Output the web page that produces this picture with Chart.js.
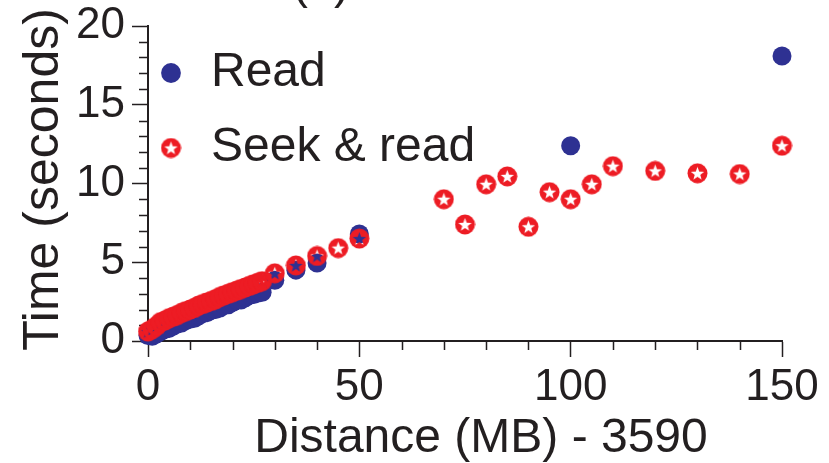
<!DOCTYPE html>
<html><head><meta charset="utf-8">
<script src="https://cdn.jsdelivr.net/npm/chart.js@4/dist/chart.umd.min.js"></script>
<style>html,body{margin:0;padding:0;background:#fff;overflow:hidden}#wrap{width:829px;height:463px;position:relative}</style>
</head><body><div id="wrap"><canvas id="c" width="829" height="463"></canvas></div>
<script>
// ---- data ----
const readX = [0,1,2,3,4,5,6,7,8,9,10,11,12,13,14,15,16,17,18,19,20,21,22,23,24,25,26,27,30,35,40,50,100,150];
const readY = [0.35,0.3,0.45,0.6,0.75,0.8,0.95,1.1,1.15,1.3,1.4,1.45,1.6,1.75,1.8,1.95,2.0,2.1,2.25,2.3,2.45,2.6,2.6,2.75,2.9,2.95,3.05,3.1,3.85,4.5,4.95,6.8,12.4,18.1];
const seekX = [0,1,2,3,4,5,6,7,8,9,10,11,12,13,14,15,16,17,18,19,20,21,22,23,24,25,26,27,30,35,40,45,50,70,75,80,85,90,95,100,105,110,120,130,140,150];
const seekY = [0.6,0.75,0.95,1.2,1.3,1.45,1.55,1.65,1.8,1.9,2.0,2.1,2.25,2.35,2.45,2.55,2.65,2.8,2.9,3.0,3.1,3.2,3.3,3.4,3.5,3.6,3.7,3.8,4.3,4.8,5.4,5.9,6.5,9.0,7.4,9.95,10.45,7.25,9.45,9.0,9.95,11.1,10.8,10.65,10.6,12.4];
const seriesLabels = ['Read', 'Seek & read'];
const xTickValues = [0, 50, 100, 150];
const yTickValues = [0, 5, 10, 15, 20];
const xMinorTicks = [10,20,30,40,60,70,80,90,110,120,130,140];
const yMinorTicks = [1,2,3,4,6,7,8,9,11,12,13,14,16,17,18,19];
const xTitle = 'Distance (MB) - 3590';
const yTitle = 'Time (seconds)';
const panelTitle = '(b)';

// ---- styles ----
const INK = '#231f20', BLUE = '#2e3192', RED = '#ed1c24';
const FONT = '"Liberation Sans", Arial, Helvetica, sans-serif';

function starMarker() {
  const c = document.createElement('canvas');
  c.width = 21; c.height = 21;
  const g = c.getContext('2d');
  const cx = 10.5, cy = 10.5;
  g.fillStyle = RED;
  g.beginPath(); g.arc(cx, cy, 10, 0, Math.PI * 2); g.fill();
  g.globalCompositeOperation = 'destination-out';
  g.beginPath();
  for (let i = 0; i < 10; i++) {
    const r = i % 2 === 0 ? 7 : 2.9;
    const a = -Math.PI / 2 + i * Math.PI / 5;
    const px = cx + r * Math.cos(a), py = cy + 0.6 + r * Math.sin(a);
    if (i === 0) g.moveTo(px, py); else g.lineTo(px, py);
  }
  g.closePath(); g.fill();
  return c;
}
const star = starMarker();

const toPts = (xs, ys) => xs.map((x, i) => ({x: x, y: ys[i]}));

// shift an axis title by a few pixels while still letting Chart.js draw it
function nudgeTitle(dx, dy) {
  return s => {
    s.paddingTop = 0; s.paddingBottom = 0; s.paddingLeft = 0; s.paddingRight = 0;
    if (s._nudged) return;
    const orig = s.drawTitle.bind(s);
    s.drawTitle = function () { const c = this.ctx; c.save(); c.translate(dx, dy); orig(); c.restore(); };
    s._nudged = true;
  };
}

const minorTicks = {
  id: 'minorTicks',
  beforeDatasetsDraw(chart) {
    const ctx = chart.ctx, xs = chart.scales.x, ys = chart.scales.y;
    ctx.save();
    ctx.strokeStyle = INK; ctx.lineWidth = 1.5;
    ctx.beginPath();
    xMinorTicks.forEach(v => { const p = Math.round(xs.getPixelForValue(v)) + 0.5; ctx.moveTo(p, xs.top); ctx.lineTo(p, xs.top + 9); });
    yMinorTicks.forEach(v => { const p = Math.round(ys.getPixelForValue(v)) + 0.5; ctx.moveTo(ys.right, p); ctx.lineTo(ys.right - 9, p); });
    ctx.stroke();
    ctx.restore();
  }
};
const topTitle = {
  id: 'topTitle',
  afterDraw(chart) {
    const ctx = chart.ctx;
    ctx.save();
    ctx.fillStyle = INK;
    ctx.font = '47px ' + FONT;
    ctx.textAlign = 'center';
    ctx.textBaseline = 'alphabetic';
    ctx.fillText(panelTitle, 321, -2);
    ctx.restore();
  }
};

new Chart(document.getElementById('c'), {
  type: 'scatter',
  data: {
    datasets: [
      { label: seriesLabels[0], data: toPts(readX, readY), pointStyle: 'circle', pointRadius: 9.5, pointHoverRadius: 9.5,
        backgroundColor: BLUE, borderColor: BLUE, borderWidth: 0, clip: false, order: 1 },
      { label: seriesLabels[1], data: toPts(seekX, seekY), pointStyle: star, pointRadius: 10, pointHoverRadius: 10,
        backgroundColor: RED, borderColor: RED, borderWidth: 0, clip: false, order: 0 }
    ]
  },
  options: {
    responsive: false,
    animation: false,
    events: [],
    layout: { padding: { top: 26, right: 47, bottom: 0, left: 0 } },
    scales: {
      x: {
        type: 'linear', min: 0, max: 150,
        afterFit: s => { s.height = 122; nudgeTitle(16, 5)(s); },
        afterBuildTicks: s => { s.ticks = xTickValues.map(v => ({value: v})); },
        ticks: { font: { family: FONT, size: 44 }, color: INK, padding: 4, maxRotation: 0, autoSkip: false },
        grid: { display: true, drawOnChartArea: false, drawTicks: true, tickLength: 16, tickWidth: 1.5, tickColor: INK },
        border: { display: true, color: INK, width: 2 },
        title: { display: true, text: xTitle, color: INK, font: { family: FONT, size: 48 }, padding: { top: 0, bottom: 0 } }
      },
      y: {
        type: 'linear', min: 0, max: 20,
        afterFit: s => { s.width = 148; nudgeTitle(-2, -4)(s); },
        afterBuildTicks: s => { s.ticks = yTickValues.map(v => ({value: v})); },
        ticks: { font: { family: FONT, size: 44 }, color: INK, padding: 7 },
        grid: { display: true, drawOnChartArea: false, drawTicks: true, tickLength: 16, tickWidth: 1.5, tickColor: INK },
        border: { display: true, color: INK, width: 2 },
        title: { display: true, text: yTitle, color: INK, font: { family: FONT, size: 50 }, padding: { top: 16, bottom: 0 } }
      }
    },
    plugins: {
      tooltip: { enabled: false },
      legend: {
        position: 'chartArea', align: 'start',
        title: { display: true, text: ' ', font: { size: 10, lineHeight: 1 }, padding: { top: 2, bottom: 30 } },
        labels: {
          usePointStyle: true, boxWidth: 32, boxHeight: 14, padding: 7, color: INK,
          font: { family: FONT, size: 48, lineHeight: 68 / 48 },
          sort: (a, b) => a.datasetIndex - b.datasetIndex,
          generateLabels: chart => Chart.defaults.plugins.legend.labels.generateLabels(chart).map(it => Object.assign(it, { text: [it.text] }))
        }
      }
    }
  },
  plugins: [minorTicks, topTitle]
});
</script></body></html>
